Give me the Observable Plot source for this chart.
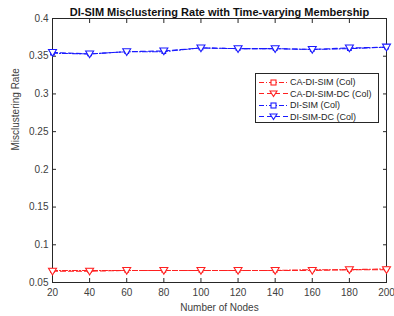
<!DOCTYPE html>
<html><head><meta charset="utf-8">
<script src="https://cdn.jsdelivr.net/npm/d3@7"></script>
<script src="https://cdn.jsdelivr.net/npm/@observablehq/plot@0.6"></script>
<style>
body{margin:0;background:#fff;font-family:"Liberation Sans",Arial,sans-serif;}
#wrap{position:relative;width:394px;height:316px;}
#legend{position:absolute;left:255px;top:73px;width:122px;height:48px;border:1px solid #262626;background:#fff;font-size:9px;color:#262626;}
.row{position:absolute;left:0;height:12px;display:flex;align-items:center;}
.row svg{margin-left:3px;margin-right:2px;}
</style></head>
<body><div id="wrap"></div>
<script>
const nodes = [20, 40, 60, 80, 100, 120, 140, 160, 180, 200];
const caDiSim   = [0.066, 0.066, 0.066, 0.066, 0.066, 0.066, 0.066, 0.067, 0.067, 0.068];
const caDiSimDc = [0.065, 0.065, 0.066, 0.066, 0.066, 0.066, 0.066, 0.066, 0.067, 0.067];
const diSim     = [0.354, 0.353, 0.356, 0.356, 0.361, 0.360, 0.360, 0.359, 0.360, 0.362];
const diSimDc   = [0.355, 0.353, 0.356, 0.357, 0.361, 0.360, 0.360, 0.359, 0.361, 0.362];
const seriesNames = ["CA-DI-SIM (Col)", "CA-DI-SIM-DC (Col)", "DI-SIM (Col)", "DI-SIM-DC (Col)"];
const xTicks = [20, 40, 60, 80, 100, 120, 140, 160, 180, 200];
const yTicks = [0.05, 0.1, 0.15, 0.2, 0.25, 0.3, 0.35, 0.4];
const titleText = "DI-SIM Misclustering Rate with Time-varying Membership";
const xLabel = "Number of Nodes";
const yLabel = "Misclustering Rate";

const styles = [
  {color: "#ff2020", dash: "5,2,1,2", sym: "square"},
  {color: "#ff2020", dash: "5,3", sym: "tri"},
  {color: "#1a1aff", dash: "5,2,1,2", sym: "square"},
  {color: "#1a1aff", dash: "5,3", sym: "tri"}
];
const triDown = {draw(ctx, size) {
  const s = Math.sqrt(size) * 0.75;
  ctx.moveTo(-s, -s * 0.75);
  ctx.lineTo(s, -s * 0.75);
  ctx.lineTo(0, s * 0.95);
  ctx.closePath();
}};
const series = [caDiSim, caDiSimDc, diSim, diSimDc];
const marks = [];
series.forEach((vals, i) => {
  const data = nodes.map((n, j) => ({n, v: vals[j]}));
  const st = styles[i];
  marks.push(Plot.line(data, {x: "n", y: "v", stroke: st.color, strokeWidth: 1.1, strokeDasharray: st.dash}));
  marks.push(Plot.dot(data, {x: "n", y: "v", stroke: st.color, fill: "white", strokeWidth: 1.1,
    symbol: st.sym === "square" ? "square" : triDown, r: st.sym === "square" ? 2.1 : 3.0}));
});

const chart = Plot.plot({
  width: 394, height: 316,
  marginLeft: 52, marginRight: 8, marginTop: 18, marginBottom: 34,
  style: {fontFamily: "'Liberation Sans', Arial, sans-serif", fontSize: "10px", color: "#262626", background: "white"},
  x: {domain: [20, 200], ticks: xTicks},
  y: {domain: [0.05, 0.4], ticks: yTicks},
  marks: [
    Plot.axisX({ticks: xTicks, tickSize: -4, tickPadding: 10, label: null, fill: "#404040", tickFormat: d => d, fontSize: 10}),
    Plot.axisX({anchor: "top", ticks: xTicks, tickSize: -4, tickFormat: () => "", label: null}),
    Plot.axisY({ticks: yTicks, tickSize: -4, tickPadding: 8, label: null, fill: "#404040", tickFormat: d => String(+d.toFixed(2)), fontSize: 10}),
    Plot.axisY({anchor: "right", ticks: yTicks, tickSize: -4, tickFormat: () => "", label: null}),
    Plot.frame({stroke: "#262626"}),
    ...marks,
    Plot.text([titleText], {frameAnchor: "top", dy: -10, fontWeight: "bold", fontSize: 11, fill: "#111"}),
    Plot.text([xLabel], {frameAnchor: "bottom", dy: 28, fontSize: 10, fill: "#404040"}),
    Plot.text([yLabel], {frameAnchor: "left", dx: -37, rotate: -90, fontSize: 10, fill: "#404040"})
  ]
});
const wrap = document.getElementById("wrap");
wrap.appendChild(chart);

const legend = document.createElement("div");
legend.id = "legend";
seriesNames.forEach((name, i) => {
  const st = styles[i];
  const row = document.createElement("div");
  row.className = "row";
  row.style.top = (2 + i * 11.5) + "px";
  const markerSvg = st.sym === "square"
    ? `<rect x="12" y="3" width="5" height="5" fill="white" stroke="${st.color}" stroke-width="1.1"/>`
    : `<path d="M11,3 L18,3 L14.5,8.5 Z" fill="white" stroke="${st.color}" stroke-width="1.1"/>`;
  row.innerHTML = `<svg width="29" height="11"><line x1="0" y1="5.5" x2="29" y2="5.5" stroke="${st.color}" stroke-width="1.1" stroke-dasharray="${st.dash}"/>${markerSvg}</svg><span>${name}</span>`;
  legend.appendChild(row);
});
wrap.appendChild(legend);
</script></body></html>
